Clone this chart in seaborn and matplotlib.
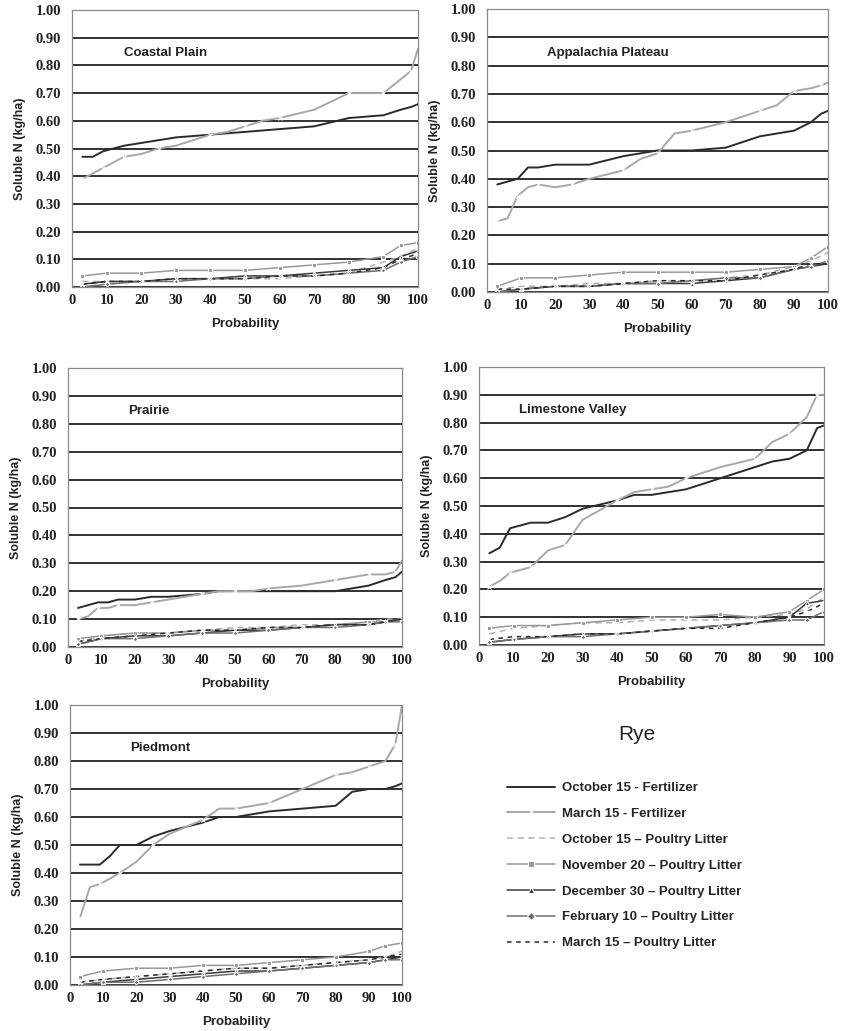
import seaborn as sns
import matplotlib.pyplot as plt
from matplotlib.ticker import FormatStrFormatter

# probability positions (fertilizer curves are sampled finer than the litter curves)
x_fert = [3, 6, 9, 12, 15, 20, 25, 30, 40, 45, 50, 55, 60, 70, 80, 85, 90, 95, 98, 100]
x_litter = [3, 10, 20, 30, 40, 50, 60, 70, 80, 90, 95, 100]

series_names = [
    "October 15 - Fertilizer",
    "March 15 - Fertilizer",
    "October 15 \u2013 Poultry Litter",
    "November 20 \u2013 Poultry Litter",
    "December 30 \u2013 Poultry Litter",
    "February 10 \u2013 Poultry Litter",
    "March 15 \u2013 Poultry Litter",
]

# Coastal Plain
coastal_oct_fert = [0.47, 0.47, 0.49, 0.50, 0.51, 0.52, 0.53, 0.54, 0.55, 0.555, 0.56, 0.565, 0.57, 0.58, 0.61, 0.615, 0.62, 0.64, 0.65, 0.66]
coastal_mar_fert = [0.39, 0.41, 0.43, 0.45, 0.47, 0.48, 0.50, 0.51, 0.55, 0.56, 0.58, 0.60, 0.61, 0.64, 0.70, 0.70, 0.70, 0.75, 0.78, 0.86]
coastal_oct_pl = [0.02, 0.02, 0.02, 0.03, 0.03, 0.03, 0.03, 0.04, 0.05, 0.09, 0.11, 0.14]
coastal_nov_pl = [0.04, 0.05, 0.05, 0.06, 0.06, 0.06, 0.07, 0.08, 0.09, 0.11, 0.15, 0.16]
coastal_dec_pl = [0.01, 0.02, 0.02, 0.03, 0.03, 0.04, 0.04, 0.05, 0.06, 0.07, 0.11, 0.13]
coastal_feb_pl = [0.00, 0.01, 0.02, 0.02, 0.03, 0.03, 0.04, 0.04, 0.05, 0.06, 0.09, 0.11]
coastal_mar_pl = [0.01, 0.02, 0.02, 0.03, 0.03, 0.03, 0.04, 0.04, 0.05, 0.07, 0.10, 0.12]

# Appalachia Plateau
appal_oct_fert = [0.38, 0.39, 0.40, 0.44, 0.44, 0.45, 0.45, 0.45, 0.48, 0.49, 0.50, 0.50, 0.50, 0.51, 0.55, 0.56, 0.57, 0.60, 0.63, 0.64]
appal_mar_fert = [0.25, 0.26, 0.34, 0.37, 0.38, 0.37, 0.38, 0.40, 0.43, 0.47, 0.49, 0.56, 0.57, 0.60, 0.64, 0.66, 0.71, 0.72, 0.73, 0.74]
appal_oct_pl = [0.01, 0.02, 0.02, 0.03, 0.03, 0.04, 0.04, 0.05, 0.06, 0.09, 0.11, 0.14]
appal_nov_pl = [0.02, 0.05, 0.05, 0.06, 0.07, 0.07, 0.07, 0.07, 0.08, 0.09, 0.12, 0.16]
appal_dec_pl = [0.00, 0.01, 0.02, 0.02, 0.03, 0.03, 0.03, 0.04, 0.05, 0.08, 0.09, 0.10]
appal_feb_pl = [0.00, 0.01, 0.02, 0.02, 0.03, 0.03, 0.04, 0.05, 0.05, 0.08, 0.09, 0.11]
appal_mar_pl = [0.01, 0.01, 0.02, 0.02, 0.03, 0.04, 0.04, 0.04, 0.06, 0.08, 0.10, 0.10]

# Prairie
prairie_oct_fert = [0.14, 0.15, 0.16, 0.16, 0.17, 0.17, 0.18, 0.18, 0.19, 0.20, 0.20, 0.20, 0.20, 0.20, 0.20, 0.21, 0.22, 0.24, 0.25, 0.27]
prairie_mar_fert = [0.10, 0.11, 0.14, 0.14, 0.15, 0.15, 0.16, 0.17, 0.19, 0.20, 0.20, 0.20, 0.21, 0.22, 0.24, 0.25, 0.26, 0.26, 0.27, 0.31]
prairie_oct_pl = [0.02, 0.04, 0.05, 0.05, 0.06, 0.07, 0.07, 0.08, 0.08, 0.09, 0.10, 0.10]
prairie_nov_pl = [0.03, 0.04, 0.05, 0.05, 0.06, 0.06, 0.07, 0.07, 0.08, 0.09, 0.09, 0.10]
prairie_dec_pl = [0.01, 0.03, 0.04, 0.04, 0.05, 0.06, 0.06, 0.07, 0.08, 0.08, 0.09, 0.10]
prairie_feb_pl = [0.01, 0.03, 0.03, 0.04, 0.05, 0.05, 0.06, 0.07, 0.07, 0.08, 0.09, 0.09]
prairie_mar_pl = [0.02, 0.03, 0.04, 0.05, 0.06, 0.06, 0.07, 0.07, 0.08, 0.08, 0.09, 0.10]

# Limestone Valley
lime_oct_fert = [0.33, 0.35, 0.42, 0.43, 0.44, 0.44, 0.46, 0.49, 0.52, 0.54, 0.54, 0.55, 0.56, 0.60, 0.64, 0.66, 0.67, 0.70, 0.78, 0.79]
lime_mar_fert = [0.21, 0.23, 0.26, 0.27, 0.28, 0.34, 0.36, 0.45, 0.52, 0.55, 0.56, 0.57, 0.60, 0.64, 0.67, 0.73, 0.76, 0.82, 0.90, 0.90]
lime_oct_pl = [0.04, 0.06, 0.07, 0.08, 0.08, 0.09, 0.09, 0.09, 0.10, 0.11, 0.13, 0.17]
lime_nov_pl = [0.06, 0.07, 0.07, 0.08, 0.09, 0.10, 0.10, 0.11, 0.10, 0.12, 0.16, 0.20]
lime_dec_pl = [0.01, 0.02, 0.03, 0.04, 0.04, 0.05, 0.06, 0.07, 0.08, 0.10, 0.15, 0.16]
lime_feb_pl = [0.01, 0.02, 0.03, 0.03, 0.04, 0.05, 0.06, 0.07, 0.08, 0.09, 0.09, 0.12]
lime_mar_pl = [0.02, 0.03, 0.03, 0.04, 0.04, 0.05, 0.06, 0.06, 0.08, 0.10, 0.12, 0.15]

# Piedmont
pied_oct_fert = [0.43, 0.43, 0.43, 0.46, 0.50, 0.50, 0.53, 0.55, 0.58, 0.60, 0.60, 0.61, 0.62, 0.63, 0.64, 0.69, 0.70, 0.70, 0.71, 0.72]
pied_mar_fert = [0.24, 0.35, 0.36, 0.38, 0.40, 0.44, 0.50, 0.54, 0.59, 0.63, 0.63, 0.64, 0.65, 0.70, 0.75, 0.76, 0.78, 0.80, 0.86, 1.00]
pied_oct_pl = [0.01, 0.02, 0.03, 0.04, 0.05, 0.06, 0.06, 0.07, 0.08, 0.09, 0.10, 0.12]
pied_nov_pl = [0.03, 0.05, 0.06, 0.06, 0.07, 0.07, 0.08, 0.09, 0.10, 0.12, 0.14, 0.15]
pied_dec_pl = [0.00, 0.01, 0.02, 0.03, 0.04, 0.05, 0.05, 0.06, 0.07, 0.08, 0.09, 0.10]
pied_feb_pl = [0.00, 0.01, 0.01, 0.02, 0.03, 0.04, 0.05, 0.06, 0.07, 0.08, 0.09, 0.09]
pied_mar_pl = [0.01, 0.02, 0.03, 0.04, 0.05, 0.06, 0.06, 0.07, 0.08, 0.09, 0.10, 0.11]

regions = {
    "Coastal Plain": [coastal_oct_fert, coastal_mar_fert, coastal_oct_pl, coastal_nov_pl, coastal_dec_pl, coastal_feb_pl, coastal_mar_pl],
    "Appalachia Plateau": [appal_oct_fert, appal_mar_fert, appal_oct_pl, appal_nov_pl, appal_dec_pl, appal_feb_pl, appal_mar_pl],
    "Prairie": [prairie_oct_fert, prairie_mar_fert, prairie_oct_pl, prairie_nov_pl, prairie_dec_pl, prairie_feb_pl, prairie_mar_pl],
    "Limestone Valley": [lime_oct_fert, lime_mar_fert, lime_oct_pl, lime_nov_pl, lime_dec_pl, lime_feb_pl, lime_mar_pl],
    "Piedmont": [pied_oct_fert, pied_mar_fert, pied_oct_pl, pied_nov_pl, pied_dec_pl, pied_feb_pl, pied_mar_pl],
}

styles = [
    dict(color="#2b2b2b", linewidth=1.4, linestyle="-"),
    dict(color="#a8a8a8", linewidth=1.4, linestyle="-", marker="x", markersize=3.5, markevery=2),
    dict(color="#b0b0b0", linewidth=1.1, linestyle=(0, (4, 3))),
    dict(color="#999999", linewidth=1.1, linestyle="-", marker="s", markersize=3),
    dict(color="#3a3a3a", linewidth=1.1, linestyle="-", marker="^", markersize=3),
    dict(color="#6e6e6e", linewidth=1.1, linestyle="-", marker="D", markersize=2.5),
    dict(color="#2a2a2a", linewidth=1.1, linestyle=(0, (3, 3)), marker="x", markersize=3.5),
]

# axes placement in pixels: left, right, top, bottom
W, H = 842, 1031
boxes = {
    "Coastal Plain": (72, 418, 10, 287),
    "Appalachia Plateau": (487, 828, 9, 292),
    "Prairie": (68, 402, 368, 647),
    "Limestone Valley": (479, 824, 367, 645),
    "Piedmont": (70, 402, 705, 985),
}
title_x = {"Coastal Plain": 15, "Appalachia Plateau": 17.5, "Prairie": 18, "Limestone Valley": 11.5, "Piedmont": 18}

sns.set_style("white")
fig = plt.figure(figsize=(W / 100, H / 100), dpi=100)

for name, values in regions.items():
    l, r, t, b = boxes[name]
    ax = fig.add_axes([l / W, 1 - b / H, (r - l) / W, (b - t) / H])
    for i, (label, y) in enumerate(zip(series_names, values)):
        x = x_fert if i < 2 else x_litter
        sns.lineplot(x=x, y=y, ax=ax, label=label, legend=False, **styles[i])
    ax.set_xlim(0, 100)
    ax.set_ylim(0, 1.0)
    ax.set_xticks(range(0, 101, 10))
    ax.set_yticks([i / 10 for i in range(11)])
    ax.yaxis.set_major_formatter(FormatStrFormatter("%.2f"))
    ax.grid(axis="y", color="#222222", linewidth=1.3)
    ax.set_axisbelow(True)
    for s in ax.spines.values():
        s.set_color("#8a8a8a")
        s.set_linewidth(0.9)
    ax.tick_params(axis="x", length=0, pad=5)
    ax.tick_params(axis="y", length=0, pad=8)
    for lab in ax.get_xticklabels() + ax.get_yticklabels():
        lab.set_fontfamily("Liberation Serif")
        lab.set_fontweight("bold")
        lab.set_fontsize(10.5)
        lab.set_color("#222222")
    ax.set_xlabel("Probability", fontfamily="Liberation Sans", fontweight="bold", fontsize=9.5, color="#222222", labelpad=8)
    ax.set_ylabel("Soluble N (kg/ha)", fontfamily="Liberation Sans", fontweight="bold", fontsize=9, color="#222222", labelpad=7)
    ax.text(title_x[name], 0.845, name, fontfamily="Liberation Sans", fontweight="bold", fontsize=9.5,
            color="#222222", va="center", ha="left")

handles, labels = ax.get_legend_handles_labels()
fig.text(637 / W, 1 - 735 / H, "Rye", ha="center", va="center", fontfamily="Liberation Sans", fontsize=15, color="#222222")
fig.legend(handles, labels, loc="upper left", bbox_to_anchor=(507 / W, 1 - 782 / H), frameon=False,
           borderpad=0, borderaxespad=0, handlelength=3.6, handletextpad=0.6, labelspacing=1.03,
           markerscale=1.5, prop=dict(family="Liberation Sans", weight="bold", size=9.5))

fig.savefig("out.png", dpi=100, facecolor="white")
